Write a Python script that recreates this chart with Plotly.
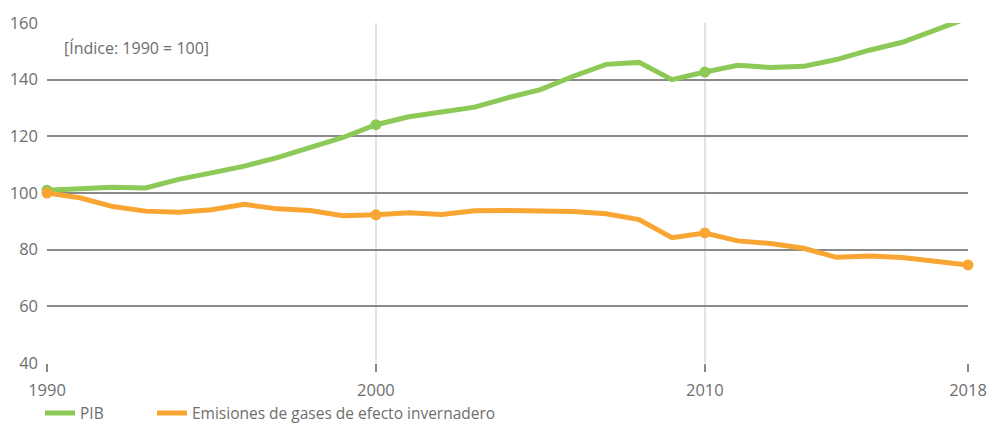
import plotly.graph_objects as go

years = list(range(1990, 2019))
pib = [101.0, 101.5, 102.0, 101.8, 104.8, 107.1, 109.5, 112.5, 116.1, 119.6,
       124.1, 126.9, 128.6, 130.3, 133.6, 136.5, 141.2, 145.4, 146.1, 140.0,
       142.7, 145.1, 144.3, 144.7, 147.1, 150.4, 153.2, 157.4, 161.8]
emisiones = [100.0, 98.3, 95.2, 93.6, 93.2, 94.1, 96.0, 94.4, 93.8, 92.0,
             92.3, 93.0, 92.4, 93.7, 93.8, 93.6, 93.5, 92.7, 90.6, 84.2,
             85.9, 83.1, 82.2, 80.5, 77.3, 77.8, 77.2, 75.9, 74.6]
marker_years = [1990, 2000, 2010, 2018]
x_ticks = [1990, 2000, 2010, 2018]
y_ticks = [40, 60, 80, 100, 120, 140, 160]

GREEN = "#8cc957"
ORANGE = "#f9a533"
TEXT = "#6e6e6e"
FONT = "Open Sans"

idx = [years.index(y) for y in marker_years]

fig = go.Figure()
for name, vals, color, leg in [("PIB", pib, GREEN, "legend"),
                               ("Emisiones de gases de efecto invernadero", emisiones, ORANGE, "legend2")]:
    fig.add_trace(go.Scatter(x=years, y=vals, name=name, mode="lines",
                             line=dict(color=color, width=5),
                             cliponaxis=False, legend=leg))
    fig.add_trace(go.Scatter(x=marker_years, y=[vals[i] for i in idx], mode="markers",
                             marker=dict(size=11, color=color),
                             cliponaxis=False, showlegend=False, hoverinfo="skip"))

legend_common = dict(orientation="h", xanchor="left", y=-0.148, yanchor="middle",
                     font=dict(size=15.5, color=TEXT), itemwidth=30,
                     bgcolor="rgba(0,0,0,0)")

fig.update_layout(
    width=987, height=423,
    margin=dict(l=47, r=19, t=23, b=60, autoexpand=False),
    paper_bgcolor="white", plot_bgcolor="white",
    font=dict(family=FONT, size=15, color=TEXT),
    showlegend=True,
    legend=dict(x=-0.0076, **legend_common),
    legend2=dict(x=0.114, **legend_common),
    xaxis=dict(range=[1990, 2018], tickvals=x_ticks, ticktext=[str(v) for v in x_ticks],
               showgrid=True, gridcolor="#e3e3e3", gridwidth=1.5,
               showline=False, zeroline=False, automargin=False,
               ticks="outside", ticklen=8, tickwidth=1.5, tickcolor="#888888",
               ticklabelstandoff=4,
               tickfont=dict(size=16.5, color=TEXT)),
    yaxis=dict(range=[40, 160], tickvals=y_ticks,
               showgrid=True, gridcolor="#8a8a8a", gridwidth=1.5,
               showline=False, zeroline=False, ticks="", automargin=False,
               ticklabelstandoff=8,
               tickfont=dict(size=16.5, color=TEXT)),
    annotations=[dict(text="[Índice: 1990 = 100]", xref="paper", yref="paper",
                      x=0.0163, y=0.926, xanchor="left", yanchor="middle",
                      showarrow=False, font=dict(size=16, color=TEXT))],
)

fig.write_html("out.html", config={"displayModeBar": False},
               post_script="document.body.style.margin='0';document.body.style.overflow='hidden';")
